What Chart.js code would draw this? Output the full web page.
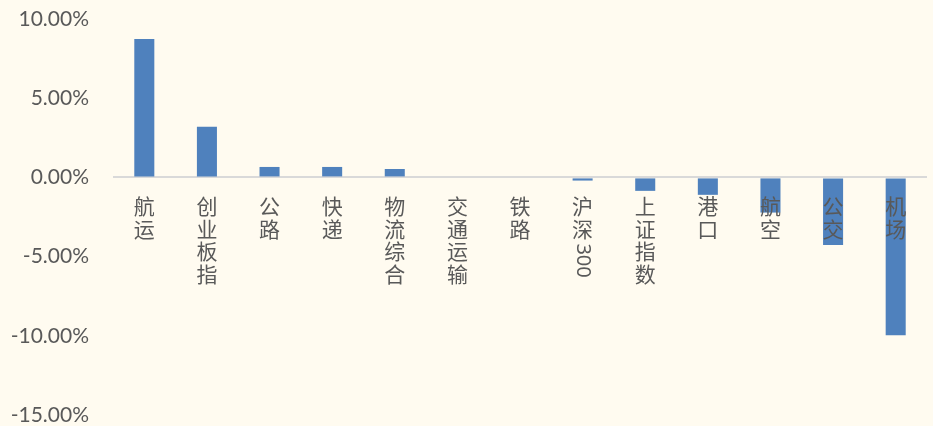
<!DOCTYPE html>
<html>
<head>
<meta charset="utf-8">
<script src="https://cdn.jsdelivr.net/npm/chart.js@4/dist/chart.umd.min.js"></script>
<style>
  html, body { margin: 0; padding: 0; background: #FFFBF0; }
  #wrap { width: 933px; height: 426px; }
</style>
</head>
<body>
<div id="wrap"><canvas id="chart" width="933" height="426"></canvas></div>
<script>
const categories = ['航运', '创业板指', '公路', '快递', '物流综合', '交通运输', '铁路', '沪深300', '上证指数', '港口', '航空', '公交', '机场'];
const changes = [8.74, 3.19, 0.66, 0.66, 0.53, 0.0, 0.0, -0.2, -0.85, -1.1, -2.22, -4.26, -9.97];
const yTicks = [-15, -10, -5, 0, 5, 10];

// category names drawn top-down under the zero line, latin runs turned sideways
const verticalLabels = {
  id: 'verticalLabels',
  afterDatasetsDraw(chart) {
    const ctx = chart.ctx;
    const xs = chart.scales.x;
    const ys = chart.scales.y;
    const y0 = ys.getPixelForValue(0);
    ctx.save();
    ctx.fillStyle = '#595959';
    ctx.textAlign = 'center';
    ctx.textBaseline = 'middle';
    categories.forEach((label, i) => {
      const cx = xs.getPixelForValue(i);
      let cy = y0 + 29;
      const parts = label.match(/[0-9A-Za-z]+|./g);
      parts.forEach(p => {
        if (/^[0-9A-Za-z]+$/.test(p)) {
          ctx.font = '20px "Noto Sans", sans-serif';
          const w = ctx.measureText(p).width;
          const start = cy - 8;
          ctx.save();
          ctx.translate(cx, start + w / 2);
          ctx.rotate(Math.PI / 2);
          ctx.fillText(p, 0, 0);
          ctx.restore();
          cy = start + w + 11;
        } else {
          ctx.font = '21px "Noto Sans CJK SC", sans-serif';
          ctx.fillText(p, cx, cy);
          cy += 22.5;
        }
      });
    });
    ctx.restore();
  }
};

new Chart(document.getElementById('chart'), {
  type: 'bar',
  data: {
    labels: categories,
    datasets: [{
      data: changes,
      backgroundColor: '#4F81BD',
      barPercentage: 0.32,
      categoryPercentage: 1.0
    }]
  },
  options: {
    responsive: false,
    animation: false,
    layout: { padding: { top: 19, bottom: 11, left: 0, right: 6 } },
    plugins: {
      legend: { display: false },
      tooltip: { enabled: false }
    },
    scales: {
      x: { display: false },
      y: {
        min: -15,
        max: 10,
        afterBuildTicks: (scale) => { scale.ticks = yTicks.map(v => ({ value: v })); },
        afterFit: (scale) => {
          scale.width = 113;
          scale.paddingTop = 0;
          scale.paddingBottom = 0;
        },
        border: { display: false },
        grid: {
          drawTicks: false,
          lineWidth: 2,
          color: (c) => c.tick && c.tick.value === 0 ? '#D9D9D9' : 'rgba(0,0,0,0)'
        },
        ticks: {
          padding: 24,
          color: '#595959',
          font: { family: 'Lato', size: 21 },
          callback: (v) => v.toFixed(2) + '%'
        }
      }
    }
  },
  plugins: [verticalLabels]
});
</script>
</body>
</html>
